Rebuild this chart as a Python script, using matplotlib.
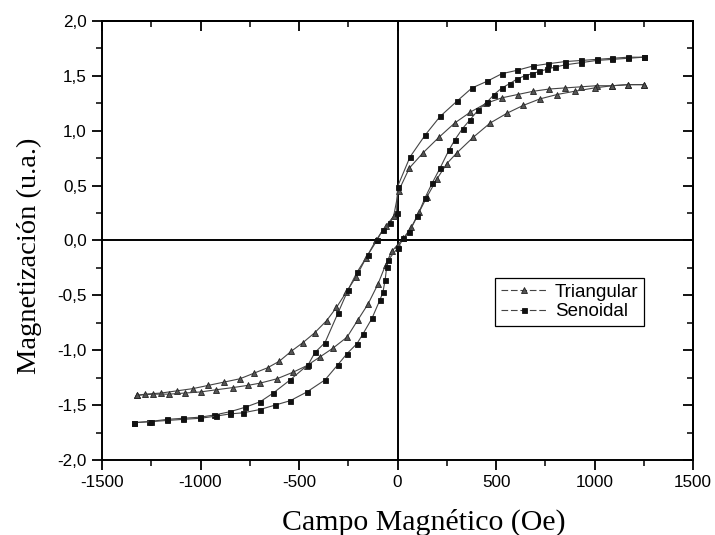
import matplotlib.pyplot as plt
from matplotlib.lines import Line2D

plt.rcParams['axes.unicode_minus'] = False

# Ciclo de histéresis, excitación triangular (rama descendente y ascendente)
tri_down_h = [1250, 1170, 1090, 1010, 930, 850, 770, 690, 610, 530, 450, 370, 290, 210,
              130, 60, 5, -20, -60, -110, -160, -210, -260, -310, -360, -420, -480, -540,
              -600, -660, -730, -800, -880, -960, -1040, -1120, -1200, -1280, -1320]
tri_down_m = [1.42, 1.42, 1.41, 1.41, 1.40, 1.39, 1.38, 1.36, 1.33, 1.30, 1.25, 1.17, 1.07, 0.94,
              0.80, 0.66, 0.45, 0.22, 0.13, 0.00, -0.16, -0.33, -0.47, -0.61, -0.73, -0.84, -0.93, -1.01,
              -1.10, -1.16, -1.21, -1.26, -1.29, -1.32, -1.35, -1.37, -1.39, -1.40, -1.41]

tri_up_h = [-1320, -1240, -1160, -1080, -1000, -920, -835, -760, -698, -612, -530, -460, -393,
            -327, -256, -200, -150, -100, -60, -30, 0, 30, 70, 110, 150, 200, 250, 302, 384,
            470, 556, 637, 723, 810, 900, 1000, 1090, 1170, 1250]
tri_up_m = [-1.41, -1.40, -1.40, -1.39, -1.38, -1.36, -1.34, -1.32, -1.30, -1.26, -1.20, -1.14, -1.06,
            -0.98, -0.88, -0.72, -0.58, -0.40, -0.22, -0.10, -0.04, 0.02, 0.12, 0.26, 0.40, 0.56, 0.70, 0.80, 0.94,
            1.07, 1.16, 1.23, 1.29, 1.33, 1.36, 1.39, 1.41, 1.42, 1.42]

# Ciclo de histéresis, excitación senoidal
sen_down_h = [1250, 1170, 1090, 1010, 930, 850, 764, 688, 606, 530, 454, 378, 302, 216,
              140, 63, 0, -5, -40, -75, -105, -150, -206, -251, -302, -368, -419, -453,
              -545, -631, -698, -774, -850, -930, -1002, -1090, -1170, -1260, -1340]
sen_down_m = [1.67, 1.67, 1.66, 1.65, 1.64, 1.63, 1.61, 1.59, 1.55, 1.52, 1.45, 1.39, 1.27, 1.13,
              0.96, 0.76, 0.49, 0.25, 0.16, 0.10, 0.00, -0.13, -0.29, -0.45, -0.66, -0.93, -1.02, -1.13,
              -1.27, -1.39, -1.47, -1.52, -1.56, -1.59, -1.61, -1.62, -1.63, -1.65, -1.66]

sen_up_h = [-1340, -1250, -1170, -1090, -1002, -920, -850, -784, -698, -622, -545, -460, -368,
            -302, -256, -206, -175, -130, -89, -74, -63, -55, -48, 0, 30, 60, 100, 140, 175,
            216, 260, 292, 330, 368, 410, 454, 490, 530, 570, 606, 645, 683, 720, 758, 800,
            850, 930, 1010, 1090, 1170, 1250]
sen_up_m = [-1.66, -1.65, -1.64, -1.63, -1.62, -1.60, -1.58, -1.57, -1.54, -1.50, -1.46, -1.38, -1.27,
            -1.13, -1.03, -0.94, -0.85, -0.71, -0.54, -0.47, -0.36, -0.24, -0.18, -0.07, 0.02, 0.08, 0.22, 0.39, 0.52,
            0.66, 0.82, 0.92, 1.02, 1.10, 1.19, 1.26, 1.33, 1.39, 1.43, 1.47, 1.50, 1.52, 1.54, 1.56, 1.58,
            1.60, 1.62, 1.64, 1.65, 1.66, 1.67]

x_ticks = [-1500, -1000, -500, 0, 500, 1000, 1500]
y_ticks = [-2.0, -1.5, -1.0, -0.5, 0.0, 0.5, 1.0, 1.5, 2.0]
y_labels = ['-2,0', '-1,5', '-1,0', '-0,5', '0,0', '0,5', '1,0', '1,5', '2,0']

sans = 'Liberation Sans'
serif = 'Liberation Serif'

fig = plt.figure(figsize=(7.15, 5.35), dpi=100)
ax = fig.add_axes([0.1427, 0.1402, 0.8266, 0.8206])

line_kw = dict(color='#444444', lw=0.8)
tri_kw = dict(marker='^', ms=4.4, mfc='#555555', mec='#222222', mew=0.6)
sq_kw = dict(marker='s', ms=3.6, mfc='#111111', mec='#111111', mew=0.6)

ax.plot(tri_down_h, tri_down_m, **line_kw, **tri_kw)
ax.plot(tri_up_h, tri_up_m, **line_kw, **tri_kw)
ax.plot(sen_down_h, sen_down_m, **line_kw, **sq_kw)
ax.plot(sen_up_h, sen_up_m, **line_kw, **sq_kw)

# ejes en el origen
ax.axhline(0, color='black', lw=1.4, zorder=1)
ax.axvline(0, color='black', lw=1.4, zorder=1)

ax.set_xlim(-1500, 1500)
ax.set_ylim(-2.0, 2.0)
ax.set_xticks(x_ticks)
ax.set_xticks([t + 250 for t in x_ticks[:-1]], minor=True)
ax.set_yticks(y_ticks)
ax.set_yticklabels(y_labels)
ax.set_yticks([t + 0.25 for t in y_ticks[:-1]], minor=True)

for s in ax.spines.values():
    s.set_linewidth(1.4)

ax.tick_params(which='major', direction='out', length=7, width=1.3, labelsize=12.3)
ax.tick_params(which='minor', direction='out', length=4, width=1.1)
ax.tick_params(axis='x', pad=4)
ax.tick_params(axis='y', pad=4)
for lab in ax.get_xticklabels() + ax.get_yticklabels():
    lab.set_family(sans)

# ticks hacia adentro en los ejes superior y derecho
top = ax.secondary_xaxis('top')
top.set_xticks(x_ticks)
top.set_xticks([t + 250 for t in x_ticks[:-1]], minor=True)
top.tick_params(which='major', direction='in', length=7, width=1.3, labeltop=False)
top.tick_params(which='minor', direction='in', length=4, width=1.1)
right = ax.secondary_yaxis('right')
right.set_yticks(y_ticks)
right.set_yticks([t + 0.25 for t in y_ticks[:-1]], minor=True)
right.tick_params(which='major', direction='in', length=7, width=1.3, labelright=False)
right.tick_params(which='minor', direction='in', length=4, width=1.1)
for sec in (top, right):
    for s in sec.spines.values():
        s.set_linewidth(1.4)

ax.set_xlabel('Campo Magnético (Oe)', family=serif, fontsize=21.5)
ax.set_ylabel('Magnetización (u.a.)', family=serif, fontsize=20.5)
ax.xaxis.set_label_coords(0.545, -0.112)
ax.yaxis.set_label_coords(-0.102, 0.465)

handles = [
    Line2D([], [], color='#444444', lw=0.8, ls=(0, (6, 2.5)), **tri_kw),
    Line2D([], [], color='#444444', lw=0.8, ls=(0, (6, 2.5)), **sq_kw),
]
leg = ax.legend(handles, ['Triangular', 'Senoidal'], loc='upper left',
                bbox_to_anchor=(0.665, 0.415), borderaxespad=0, fancybox=False,
                edgecolor='black', framealpha=1, handlelength=2.5, handletextpad=0.4,
                borderpad=0.3, labelspacing=0.15, prop={'family': sans, 'size': 13.5})
leg.get_frame().set_linewidth(0.9)

fig.savefig('out.png', dpi=100)
